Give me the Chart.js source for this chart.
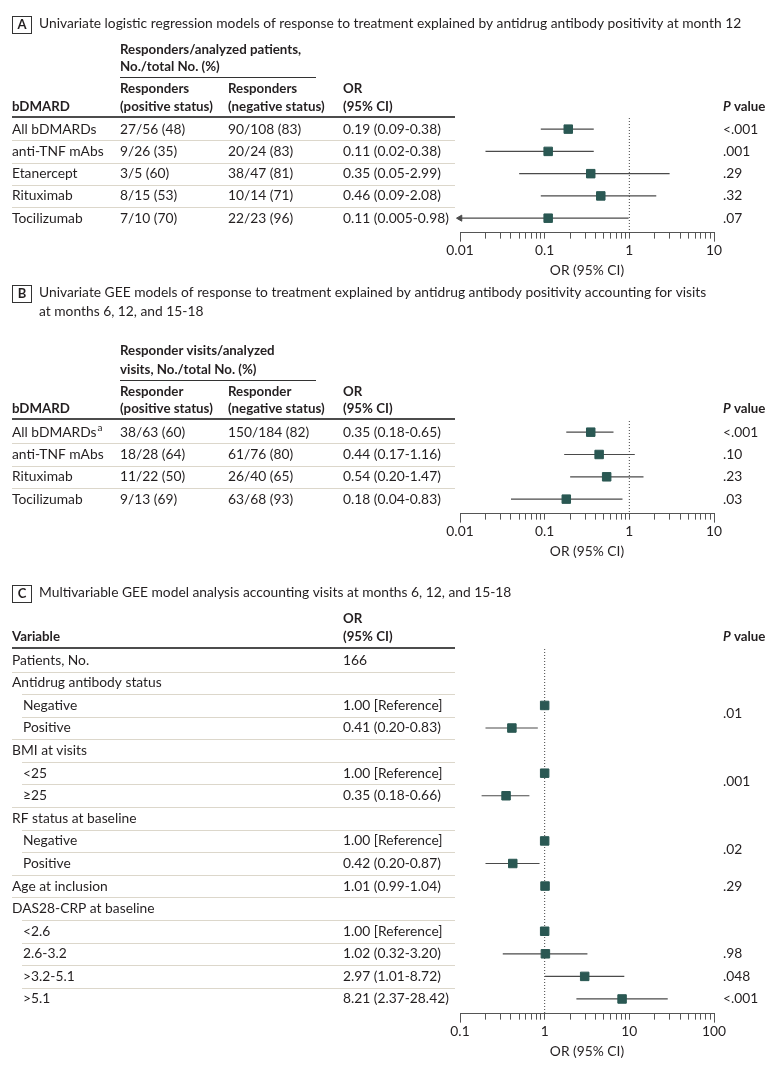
<!DOCTYPE html>
<html>
<head>
<meta charset="utf-8">
<script src="https://cdn.jsdelivr.net/npm/chart.js@4.4.1/dist/chart.umd.min.js"></script>
<style>
  body { margin: 0; background: #fff; width: 780px; height: 1068px; position: relative; overflow: hidden; }
  .panel { position: absolute; left: 0; width: 780px; }
</style>
</head>
<body>
<div class="panel" style="top:0;height:284px"><canvas id="ca"></canvas></div>
<div class="panel" style="top:280px;height:290px"><canvas id="cb"></canvas></div>
<div class="panel" style="top:570px;height:498px"><canvas id="cc"></canvas></div>
<script>
// ---- panel A: univariate logistic regression, month 12
const rowsA = ['All bDMARDs', 'anti-TNF mAbs', 'Etanercept', 'Rituximab', 'Tocilizumab'];
const posA = ['27/56 (48)', '9/26 (35)', '3/5 (60)', '8/15 (53)', '7/10 (70)'];
const negA = ['90/108 (83)', '20/24 (83)', '38/47 (81)', '10/14 (71)', '22/23 (96)'];
const orA = [0.19, 0.11, 0.35, 0.46, 0.11];
const loA = [0.09, 0.02, 0.05, 0.09, 0.005];
const hiA = [0.38, 0.38, 2.99, 2.08, 0.98];
const pA = ['<.001', '.001', '.29', '.32', '.07'];
const ticksA = ['0.01', '0.1', '1', '10'];

// ---- panel B: univariate GEE
const rowsB = ['All bDMARDs', 'anti-TNF mAbs', 'Rituximab', 'Tocilizumab'];
const supB = ['a', '', '', ''];
const posB = ['38/63 (60)', '18/28 (64)', '11/22 (50)', '9/13 (69)'];
const negB = ['150/184 (82)', '61/76 (80)', '26/40 (65)', '63/68 (93)'];
const orB = [0.35, 0.44, 0.54, 0.18];
const loB = [0.18, 0.17, 0.20, 0.04];
const hiB = [0.65, 1.16, 1.47, 0.83];
const pB = ['<.001', '.10', '.23', '.03'];
const ticksB = ['0.01', '0.1', '1', '10'];

// ---- panel C: multivariable GEE
const rowsC = ['Patients, No.', 'Antidrug antibody status', 'Negative', 'Positive', 'BMI at visits', '<25', '≥25',
  'RF status at baseline', 'Negative', 'Positive', 'Age at inclusion', 'DAS28-CRP at baseline', '<2.6', '2.6-3.2', '>3.2-5.1', '>5.1'];
const levelC = [0, 0, 1, 1, 0, 1, 1, 0, 1, 1, 0, 0, 1, 1, 1, 1];
const refC = [false, false, true, false, false, true, false, false, true, false, false, false, true, false, false, false];
const orC = [null, null, 1, 0.41, null, 1, 0.35, null, 1, 0.42, 1.01, null, 1, 1.02, 2.97, 8.21];
const loC = [null, null, null, 0.20, null, null, 0.18, null, null, 0.20, 0.99, null, null, 0.32, 1.01, 2.37];
const hiC = [null, null, null, 0.83, null, null, 0.66, null, null, 0.87, 1.04, null, null, 3.20, 8.72, 28.42];
const pC = ['', '', '', '.01', '', '', '.001', '', '', '.02', '.29', '', '', '.98', '.048', '<.001'];
const patientsNo = 166;
const ticksC = ['0.1', '1', '10', '100'];

const FONT = 'Lato, "Open Sans", sans-serif';
const FS = 13.8;      // body text
const FSH = 13.3;     // bold headers
const TXT = '#231f20';
const MARK = '#2a5853';
const LINE = '#4a4a4a';
const SEP = '#dcd7cb';
const COLX = [12, 120, 228, 343];
const PX = 723;

function fmt(v) { return v < 0.01 ? String(v) : v.toFixed(2); }

function orText(p, i) {
  if (p.special && p.special[i] != null) return p.special[i];
  if (p.ref && p.ref[i]) return '1.00 [Reference]';
  if (p.or[i] == null) return '';
  return fmt(p.or[i]) + ' (' + fmt(p.lo[i]) + '-' + fmt(p.hi[i]) + ')';
}

const panels = [
  {
    id: 'ca', letter: 'A',
    title: ['Univariate logistic regression models of response to treatment explained by antidrug antibody positivity at month 12'],
    titleY: 24,
    group: ['Responders/analyzed patients,', 'No./total No. (%)'], groupY: [50, 67], underY: 77,
    head: [['bDMARD'], ['Responders', '(positive status)'], ['Responders', '(negative status)'], ['OR', '(95% CI)']],
    headY: [89, 107], ruleY: 117,
    labels: rowsA, cols: [posA, negA], or: orA, lo: loA, hi: hiA, p: pA,
    ticks: ticksA, xMin: 0.01, xMax: 10, padTop: 118, padBottom: 3
  },
  {
    id: 'cb', letter: 'B',
    title: ['Univariate GEE models of response to treatment explained by antidrug antibody positivity accounting for visits',
      'at months 6, 12, and 15-18'],
    titleY: 13,
    group: ['Responder visits/analyzed', 'visits, No./total No. (%)'], groupY: [71, 90], underY: 100,
    head: [['bDMARD'], ['Responder', '(positive status)'], ['Responder', '(negative status)'], ['OR', '(95% CI)']],
    headY: [112, 129], ruleY: 139,
    labels: rowsB, sup: supB, cols: [posB, negB], or: orB, lo: loB, hi: hiB, p: pB,
    ticks: ticksB, xMin: 0.01, xMax: 10, padTop: 141, padBottom: 8
  },
  {
    id: 'cc', letter: 'C',
    title: ['Multivariable GEE model analysis accounting visits at months 6, 12, and 15-18'],
    titleY: 23,
    head: [['Variable'], [], [], ['OR', '(95% CI)']],
    headY: [49, 67], ruleY: 78,
    labels: rowsC, level: levelC, ref: refC, cols: [], or: orC, lo: loC, hi: hiC, p: pC,
    special: [String(patientsNo)],
    ticks: ticksC, xMin: 0.1, xMax: 100, padTop: 79, padBottom: 6
  }
];

function font(weight, style, size) {
  return (style || '') + ' ' + (weight || 'normal') + ' ' + (size || FS) + 'px ' + FONT;
}

const tablePlugin = {
  id: 'table',
  afterDraw(chart) {
    const p = chart.options.plugins.table.panel;
    const ctx = chart.ctx;
    const ys = chart.scales.y;
    const xs = chart.scales.x;
    const n = p.labels.length;
    const lv = (i) => (p.level ? p.level[i] : 0);
    ctx.save();
    ctx.fillStyle = TXT;
    ctx.textBaseline = 'middle';
    ctx.textAlign = 'left';

    // longer end ticks of the OR axis
    ctx.strokeStyle = '#555';
    ctx.lineWidth = 1;
    [p.xMin, p.xMax].forEach((v) => {
      const x = Math.round(xs.getPixelForValue(v)) + 0.5;
      ctx.beginPath();
      ctx.moveTo(x, xs.top);
      ctx.lineTo(x, xs.top + 9);
      ctx.stroke();
    });

    // panel letter box + title
    ctx.strokeStyle = '#333';
    ctx.strokeRect(12.5, p.titleY - 7.5, 19, 17);
    ctx.font = 'bold 13px ' + FONT;
    ctx.textAlign = 'center';
    ctx.fillText(p.letter, 22, p.titleY + 1);
    ctx.textAlign = 'left';
    ctx.font = font();
    p.title.forEach((t, k) => ctx.fillText(t, 39, p.titleY + k * 19));

    // headers
    ctx.font = font('bold', '', FSH);
    if (p.group) {
      p.group.forEach((t, k) => ctx.fillText(t, COLX[1], p.groupY[k]));
      ctx.strokeStyle = '#333';
      ctx.beginPath();
      ctx.moveTo(COLX[1], p.underY + 0.5);
      ctx.lineTo(316, p.underY + 0.5);
      ctx.stroke();
    }
    p.head.forEach((lines, c) => {
      lines.forEach((t, k) => {
        const y = p.headY[k + (2 - lines.length)];
        ctx.fillText(t, COLX[c], y);
      });
    });
    const hy = p.headY[1];
    ctx.font = font('bold', 'italic', FSH);
    ctx.fillText('P', PX, hy);
    const pw = ctx.measureText('P').width;
    ctx.font = font('bold', '', FSH);
    ctx.fillText(' value', PX + pw, hy);
    ctx.strokeStyle = '#111';
    ctx.lineWidth = 1.5;
    ctx.beginPath();
    ctx.moveTo(12, p.ruleY);
    ctx.lineTo(455, p.ruleY);
    ctx.stroke();

    // rows
    ctx.lineWidth = 1;
    ctx.strokeStyle = SEP;
    for (let i = 0; i < n - 1; i++) {
      const y = Math.round((ys.getPixelForValue(i) + ys.getPixelForValue(i + 1)) / 2) + 0.5;
      ctx.beginPath();
      ctx.moveTo(lv(i + 1) ? 22 : 12, y);
      ctx.lineTo(455, y);
      ctx.stroke();
    }
    ctx.font = font();
    for (let i = 0; i < n; i++) {
      const y = ys.getPixelForValue(i);
      const x0 = lv(i) ? 23 : COLX[0];
      ctx.fillText(p.labels[i], x0, y);
      if (p.sup && p.sup[i]) {
        const w = ctx.measureText(p.labels[i]).width;
        ctx.font = '10px ' + FONT;
        ctx.fillText(p.sup[i], x0 + w + 1, y - 4);
        ctx.font = font();
      }
      p.cols.forEach((col, c) => ctx.fillText(col[i], COLX[c + 1], y));
      ctx.fillText(orText(p, i), COLX[3], y);
      if (p.p[i]) {
        let py = y;
        if (p.ref && p.ref[i - 1] && (i + 1 >= n || lv(i + 1) === 0)) {
          py = (ys.getPixelForValue(i - 1) + y) / 2 - 3;
        }
        ctx.fillText(p.p[i], PX, py);
      }
    }
    ctx.restore();
  }
};

function makeChart(p) {
  const n = p.labels.length;
  const yMax = n - 0.5 + 0.15;
  const squares = [];
  const arrows = [];
  p.or.forEach((v, i) => { if (v != null) squares.push({ x: v, y: i }); });
  p.lo.forEach((v, i) => { if (v != null && v < p.xMin) arrows.push({ x: p.xMin, y: i }); });

  const datasets = [
    { data: squares, pointStyle: 'rect', pointRadius: 6, backgroundColor: MARK, borderColor: MARK, borderWidth: 1 },
    { data: arrows, pointStyle: 'triangle', pointRotation: -90, pointRadius: 3.5, backgroundColor: LINE, borderColor: LINE, borderWidth: 1, clip: false }
  ];
  p.lo.forEach((v, i) => {
    if (v == null) return;
    datasets.push({ data: [{ x: v, y: i }, { x: p.hi[i], y: i }], showLine: true, pointRadius: 0, borderColor: LINE, borderWidth: 1.2 });
  });
  datasets.push({ data: [{ x: 1, y: -0.5 }, { x: 1, y: yMax }], showLine: true, pointRadius: 0, borderColor: '#444', borderWidth: 1, borderDash: [1, 2] });

  const minExp = Math.round(Math.log10(p.xMin));
  return new Chart(document.getElementById(p.id), {
    type: 'scatter',
    data: { datasets },
    options: {
      responsive: true,
      maintainAspectRatio: false,
      animation: false,
      events: [],
      layout: { padding: { left: 460, right: 66, top: p.padTop, bottom: p.padBottom } },
      plugins: { legend: { display: false }, tooltip: { enabled: false }, table: { panel: p } },
      scales: {
        x: {
          type: 'logarithmic', min: p.xMin, max: p.xMax, position: 'bottom',
          afterBuildTicks: (sc) => {
            sc.ticks = sc.ticks.filter((t) => {
              const m = t.value / Math.pow(10, Math.floor(Math.log10(t.value) + 1e-9));
              return Math.abs(m - Math.round(m)) < 1e-6;
            });
          },
          grid: { drawOnChartArea: false, drawTicks: true, tickLength: 6, color: '#555', tickColor: '#555' },
          border: { display: true, color: '#555', width: 1 },
          ticks: {
            autoSkip: false, maxRotation: 0, padding: 4, color: TXT, font: { family: FONT, size: FS },
            callback: (v) => {
              const l = Math.log10(v);
              const k = Math.round(l);
              return Math.abs(l - k) < 1e-6 ? p.ticks[k - minExp] : '';
            }
          },
          title: { display: true, text: 'OR (95% CI)', color: TXT, font: { family: FONT, size: FS, lineHeight: 1 }, padding: { top: 0, bottom: 4 } }
        },
        y: { type: 'linear', display: false, reverse: true, min: -0.5, max: yMax }
      }
    },
    plugins: [tablePlugin]
  });
}

panels.forEach(makeChart);
</script>
</body>
</html>
